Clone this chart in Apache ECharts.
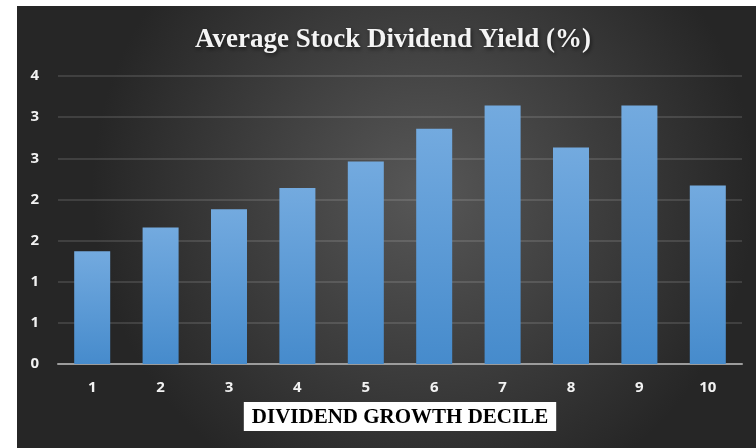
<!DOCTYPE html>
<html>
<head>
<meta charset="utf-8">
<script src="https://cdn.jsdelivr.net/npm/echarts@6/dist/echarts.min.js"></script>
<style>
  html, body { margin: 0; padding: 0; background: #fff; }
  #chart { width: 756px; height: 448px; }
</style>
</head>
<body>
<div id="chart"></div>
<script>
var deciles = ['1', '2', '3', '4', '5', '6', '7', '8', '9', '10']
var yieldVals = [1.37, 1.66, 1.88, 2.14, 2.46, 2.86, 3.14, 2.63, 3.14, 2.17]
var yTickLabels = ['0', '1', '1', '2', '2', '3', '3', '4']

var chart = echarts.init(document.getElementById('chart'))

chart.setOption({
  backgroundColor: '#fff',
  graphic: [
    {
      type: 'rect',
      z: -10,
      silent: true,
      shape: { x: 17, y: 6, width: 739, height: 442 },
      style: {
        fill: {
          type: 'radial',
          x: 0.55,
          y: 0.42,
          r: 0.75,
          colorStops: [
            { offset: 0, color: '#575757' },
            { offset: 1, color: '#262626' }
          ]
        }
      }
    }
  ],
  title: {
    text: 'Average Stock Dividend Yield (%)',
    left: 388,
    textAlign: 'center',
    top: 22,
    textStyle: {
      fontFamily: 'Liberation Serif',
      fontWeight: 'bold',
      fontSize: 27,
      color: '#f4f4f4',
      textShadowColor: 'rgba(0,0,0,0.6)',
      textShadowBlur: 4,
      textShadowOffsetX: 1,
      textShadowOffsetY: 2
    }
  },
  grid: {
    left: 58,
    right: 14,
    top: 76,
    bottom: 84
  },
  xAxis: {
    type: 'category',
    data: deciles,
    name: 'DIVIDEND GROWTH DECILE',
    nameLocation: 'middle',
    nameGap: 38,
    nameTextStyle: {
      fontFamily: 'Liberation Serif',
      fontWeight: 'bold',
      fontSize: 21,
      color: '#000',
      backgroundColor: '#fff',
      padding: [5, 8, 3, 8]
    },
    axisLine: { lineStyle: { color: '#9c9c9c', width: 2 } },
    axisTick: { show: false },
    axisLabel: {
      color: '#f2f2f2',
      fontFamily: 'Open Sans',
      fontWeight: 'bold',
      fontSize: 15,
      margin: 16
    }
  },
  yAxis: {
    type: 'value',
    min: 0,
    max: 3.5,
    interval: 0.5,
    axisLine: { show: false },
    axisTick: { show: false },
    splitLine: { lineStyle: { color: 'rgba(255,255,255,0.12)', width: 2 } },
    axisLabel: {
      color: '#f2f2f2',
      fontFamily: 'Open Sans',
      fontWeight: 'bold',
      fontSize: 15,
      margin: 19,
      formatter: function (v, i) {
        return yTickLabels[i]
      }
    }
  },
  series: [
    {
      type: 'bar',
      data: yieldVals,
      barWidth: 36,
      itemStyle: {
        color: new echarts.graphic.LinearGradient(0, 0, 0, 1, [
          { offset: 0, color: '#73aadf' },
          { offset: 1, color: '#468bcc' }
        ]),
        shadowColor: 'rgba(0,0,0,0.55)',
        shadowBlur: 6,
        shadowOffsetX: 2,
        shadowOffsetY: 1
      }
    }
  ]
})
</script>
</body>
</html>
